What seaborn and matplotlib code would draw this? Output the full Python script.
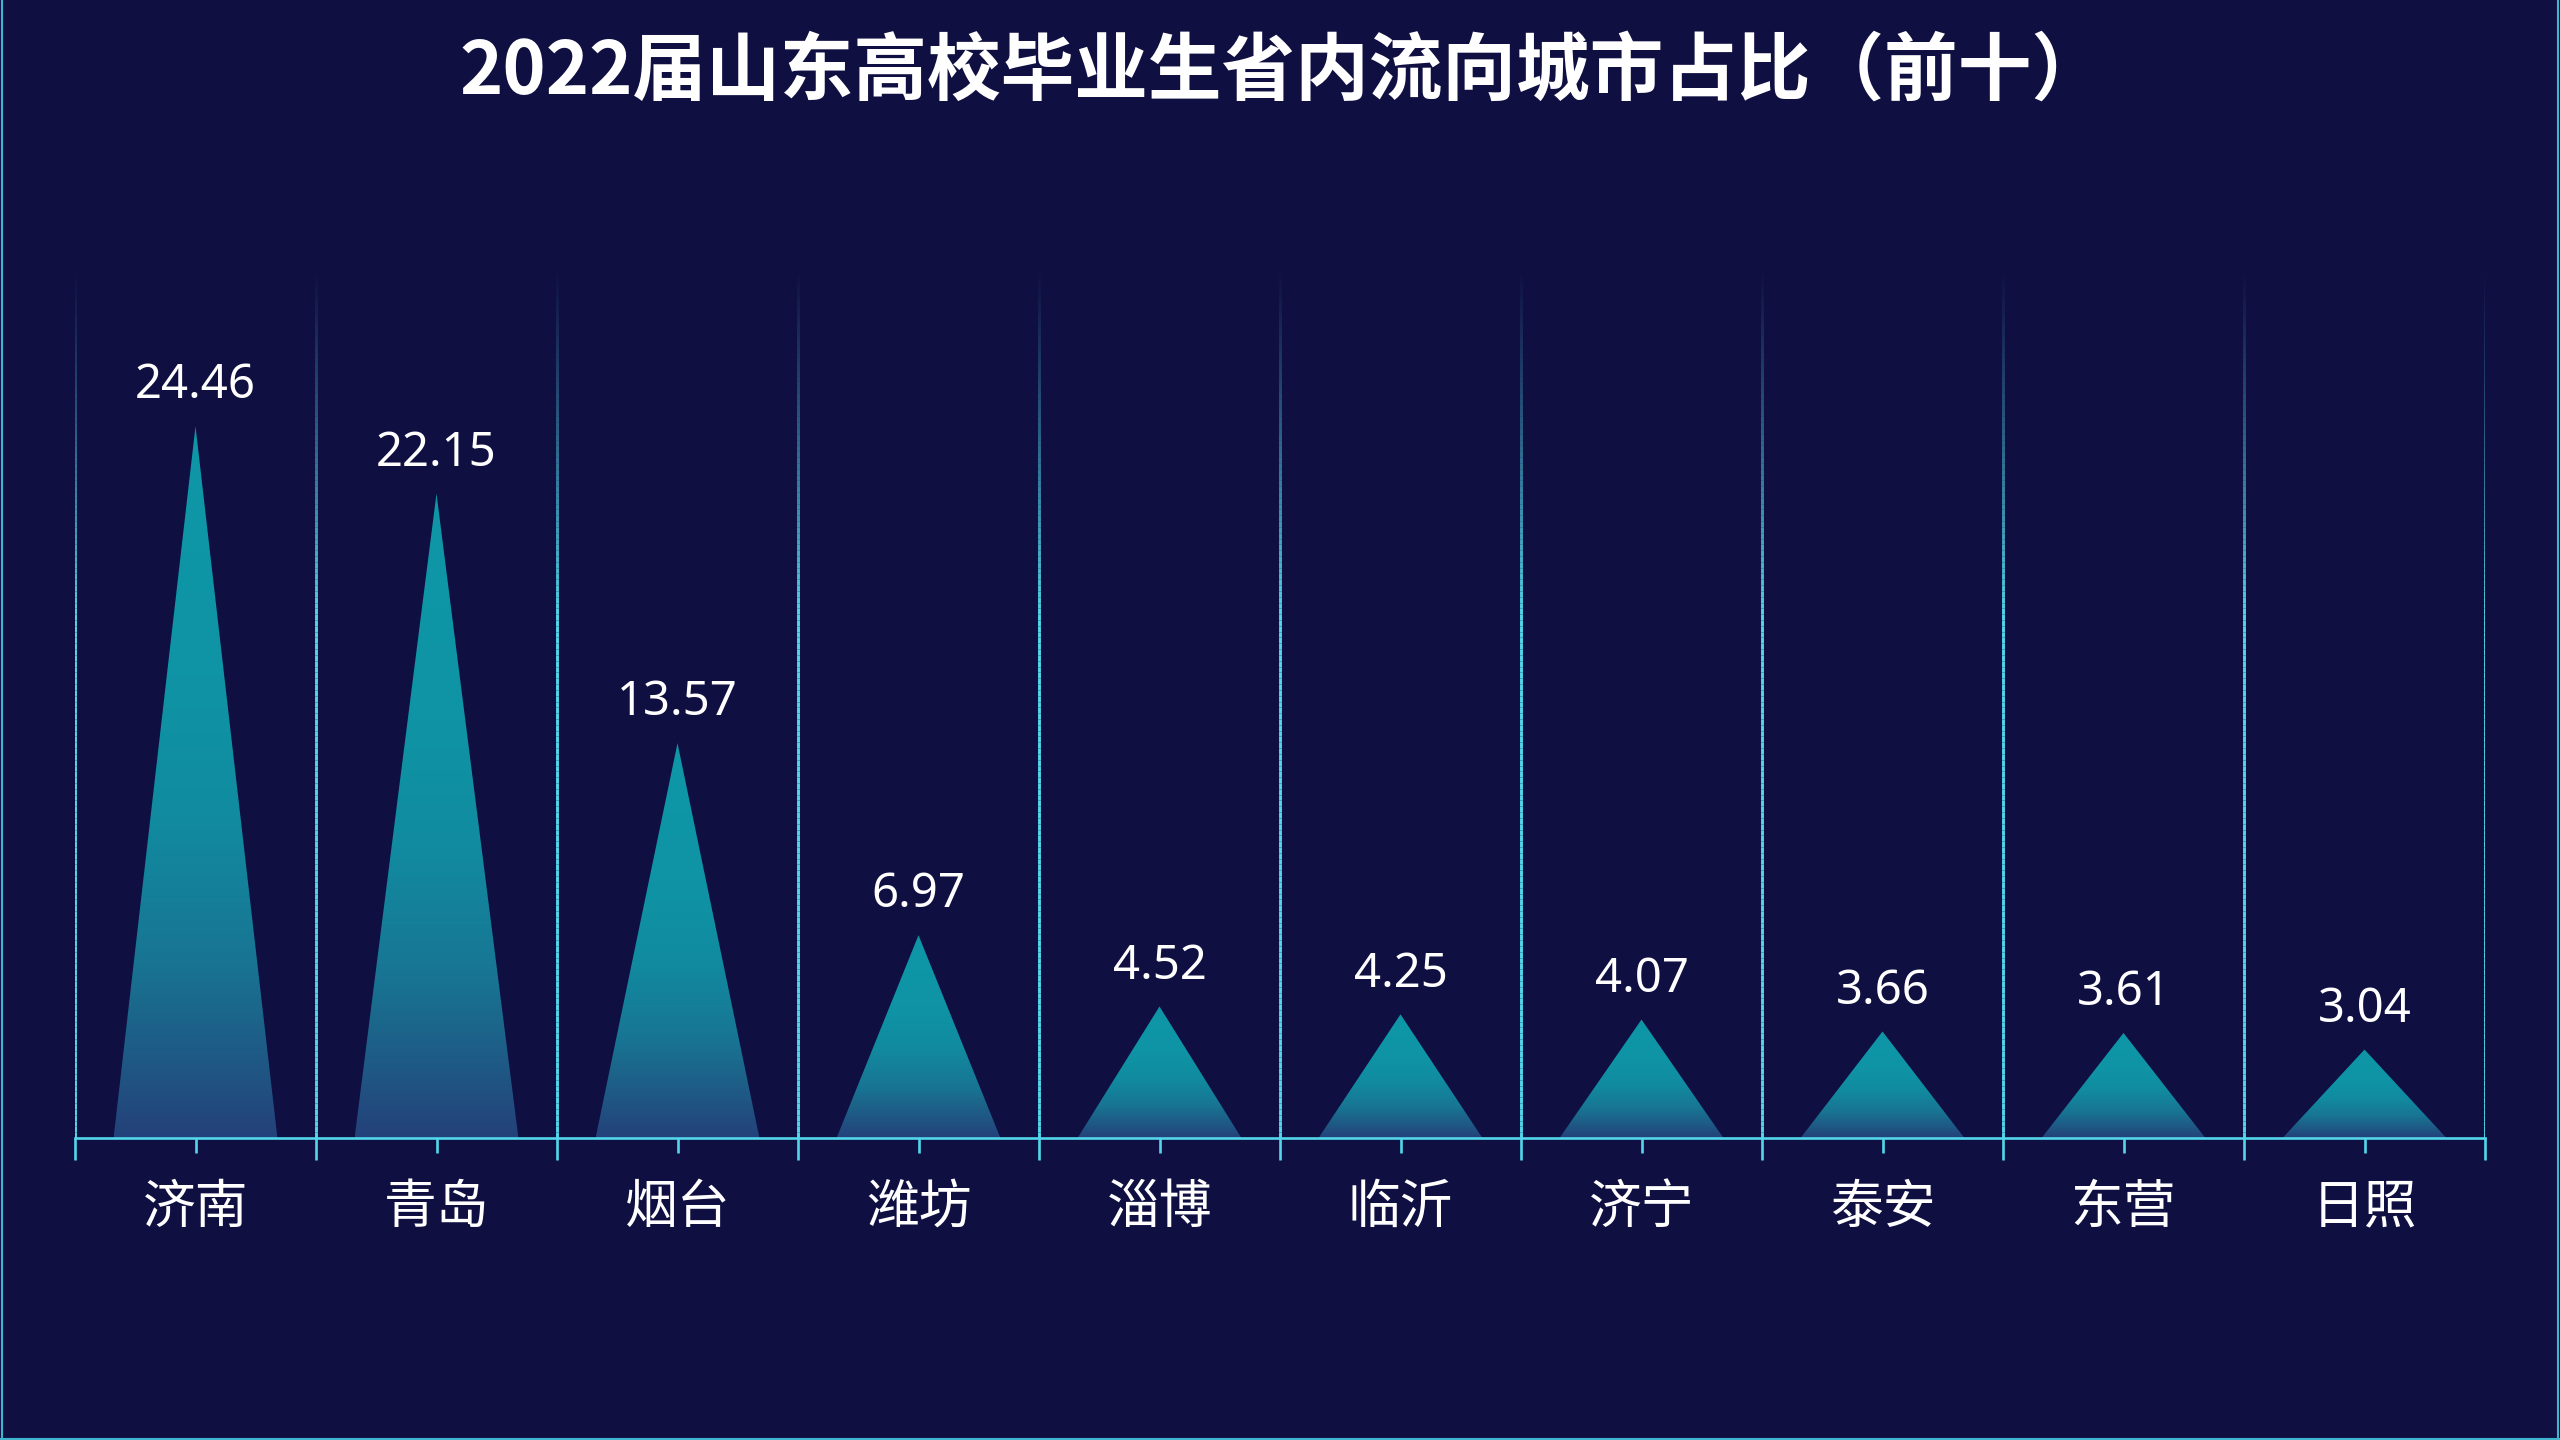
import numpy as np
import pandas as pd
import matplotlib
matplotlib.use('Agg')
import matplotlib.pyplot as plt
import seaborn as sns
from matplotlib.colors import LinearSegmentedColormap, to_rgba
from matplotlib.patches import Polygon
from matplotlib.collections import LineCollection
from matplotlib.lines import Line2D

# ---- data ----
cities = ['济南', '青岛', '烟台', '潍坊', '淄博', '临沂', '济宁', '泰安', '东营', '日照']
shares = [24.46, 22.15, 13.57, 6.97, 4.52, 4.25, 4.07, 3.66, 3.61, 3.04]
title = '2022届山东高校毕业生省内流向城市占比（前十）'

BG = '#100F42'
LINE = '#52D6EA'

sns.set_theme(style='dark')
plt.rcParams['font.family'] = ['Noto Sans CJK SC', 'DejaVu Sans']
plt.rcParams['axes.unicode_minus'] = False

fig = plt.figure(figsize=(25.6, 14.4), dpi=100, facecolor=BG)
ax = fig.add_axes([75 / 2560, 302 / 1440, 2410 / 2560, 873 / 1440])
ax.set_facecolor(BG)
ax.grid(False)

df = pd.DataFrame({'city': cities, 'share': shares})
sns.barplot(data=df, x='city', y='share', order=cities, width=0.68,
            color='#0E96A6', ax=ax, zorder=2)

cmap = LinearSegmentedColormap.from_list(
    'tri', [(0.0, '#24417A'), (0.1, '#1F5784'), (0.25, '#187593'),
            (0.45, '#118BA0'), (0.65, '#0F94A5'), (1.0, '#0E97A7')])
grad = np.linspace(0, 1, 256).reshape(-1, 1)

for p in list(ax.patches):
    x0, w, h = p.get_x(), p.get_width(), p.get_height()
    p.set_visible(False)
    tri = Polygon([(x0, 0), (x0 + w, 0), (x0 + w / 2, h)], closed=True,
                  transform=ax.transData, facecolor='none', edgecolor='none')
    ax.add_patch(tri)
    im = ax.imshow(grad, extent=(x0, x0 + w, 0, h), origin='lower',
                   aspect='auto', cmap=cmap, zorder=2, interpolation='bilinear')
    im.set_clip_path(tri)

ax.set_xlim(-0.5, len(cities) - 0.5)
ax.set_ylim(0, 30)

# fading vertical separators
n = 150
ys = np.linspace(0, 30, n + 1)
base = np.array(to_rgba(LINE))
for b in np.arange(-0.5, len(cities), 1.0):
    segs = [[(b, ys[k]), (b, ys[k + 1])] for k in range(n)]
    t = (ys[:-1] + ys[1:]) / 2 / 30
    alpha = np.clip((1.0 - t) / 0.4, 0, 1) ** 1.2
    cols = np.tile(base, (n, 1))
    cols[:, 3] = alpha
    lc = LineCollection(segs, colors=cols, linewidths=2.1, zorder=1)
    ax.add_collection(lc)

for s in ['left', 'right', 'top']:
    ax.spines[s].set_visible(False)
ax.spines['bottom'].set_color(LINE)
ax.spines['bottom'].set_linewidth(1.9)
ax.spines['bottom'].set_zorder(3)

ax.set_xticks(range(len(cities)))
ax.set_xticklabels(cities)
ax.set_xticks(np.arange(-0.5, len(cities), 1.0), minor=True)
ax.tick_params(axis='x', which='major', length=11, width=1.9, color=LINE,
               labelsize=38, labelcolor='white', pad=19, bottom=True)
ax.tick_params(axis='x', which='minor', length=16, width=1.9, color=LINE,
               bottom=True)
ax.set_yticks([])
ax.set_xlabel('')
ax.set_ylabel('')

for i, v in enumerate(shares):
    ax.annotate(f'{v:.2f}', (i, v), xytext=(0, 20), textcoords='offset points',
                ha='center', va='baseline', fontsize=34, color='white',
                family=['Noto Sans', 'DejaVu Sans'], zorder=4)

fig.text(1282 / 2560, 1 - 72 / 1440, title, ha='center', va='center',
         fontsize=53, fontweight='bold', color='white')

# thin frame around the slide
for xs, ys_ in [([0.0006, 0.0006], [0, 1]), ([0.9994, 0.9994], [0, 1]),
                ([0, 1], [0.001, 0.001])]:
    fig.add_artist(Line2D(xs, ys_, transform=fig.transFigure,
                          color='#3FB5D0', lw=1.5))

fig.savefig('out.png', dpi=100, facecolor=BG)
